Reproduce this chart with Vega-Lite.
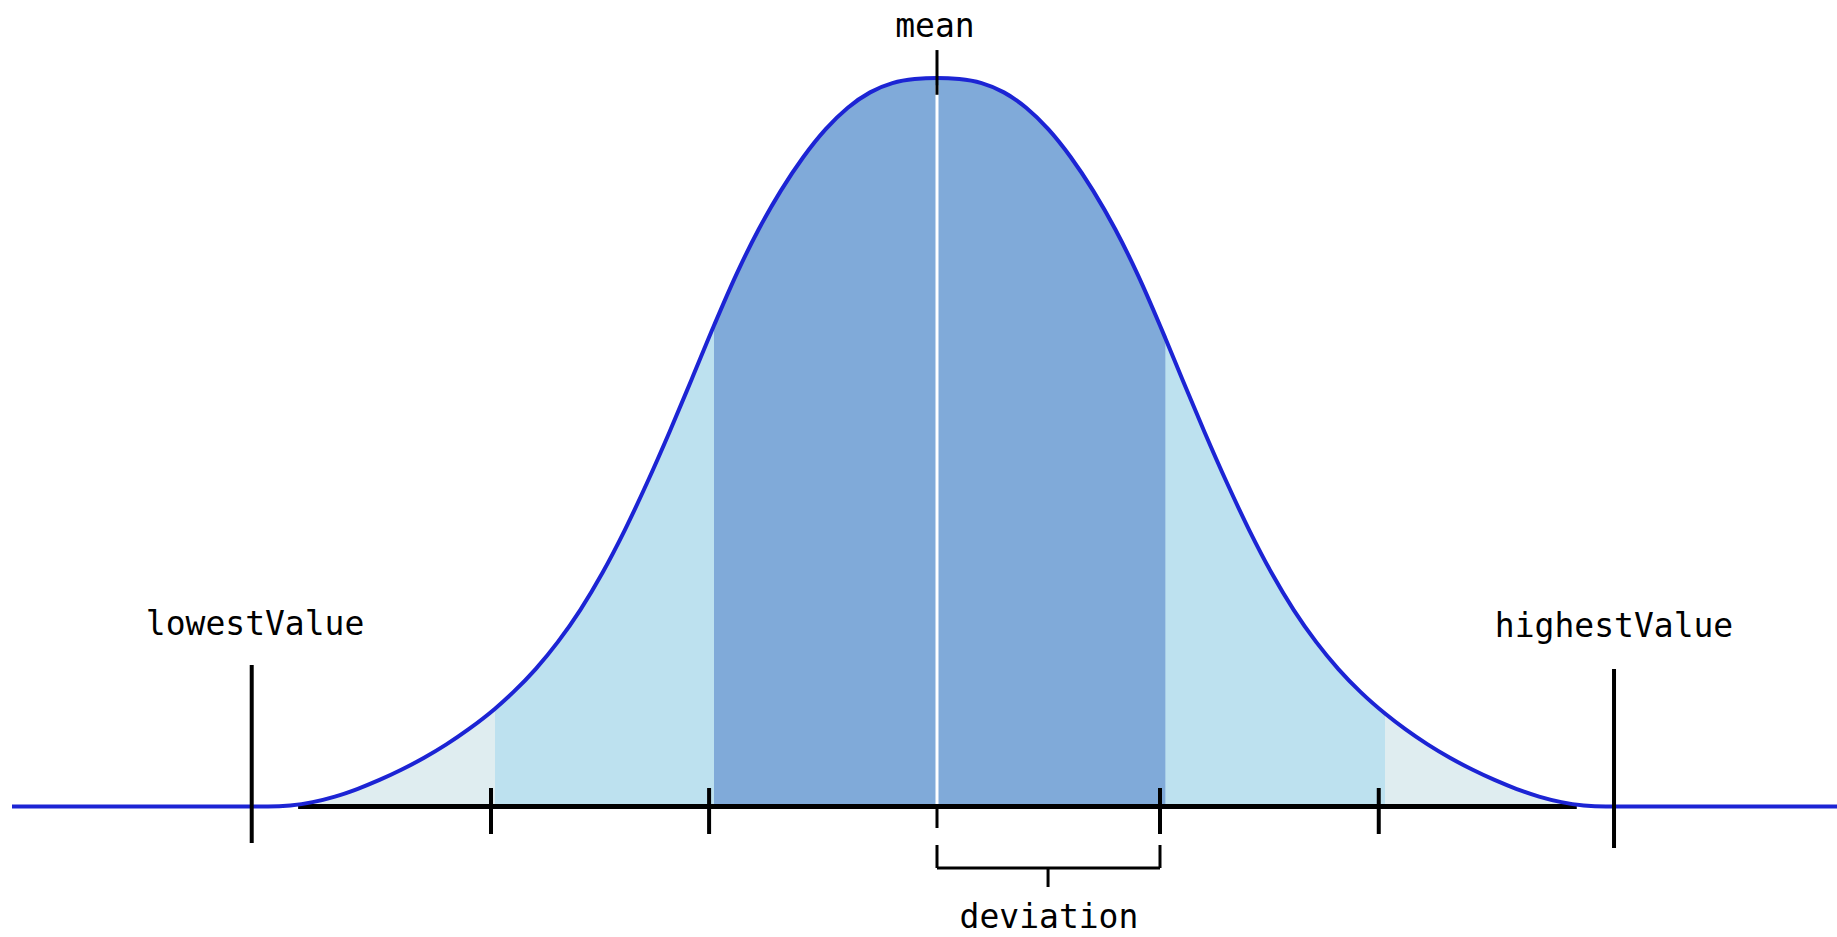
{
  "$schema": "https://vega.github.io/schema/vega-lite/v6.json",
  "autosize": "none",
  "width": 1837,
  "height": 937,
  "padding": 0,
  "background": "white",
  "config": {"view": {"stroke": null}},
  "datasets": {
    "curve": [
      {"x": -4.148, "y": 0},
      {"x": -3.0, "y": 0},
      {"x": -2.9, "y": 0.0015},
      {"x": -2.8, "y": 0.006},
      {"x": -2.7, "y": 0.0136},
      {"x": -2.6, "y": 0.024},
      {"x": -2.5, "y": 0.0365},
      {"x": -2.4, "y": 0.0508},
      {"x": -2.3, "y": 0.0669},
      {"x": -2.2, "y": 0.0853},
      {"x": -2.1, "y": 0.1062},
      {"x": -1.982, "y": 0.1343},
      {"x": -1.9, "y": 0.157},
      {"x": -1.8, "y": 0.1887},
      {"x": -1.7, "y": 0.226},
      {"x": -1.6, "y": 0.2697},
      {"x": -1.5, "y": 0.3209},
      {"x": -1.4, "y": 0.3795},
      {"x": -1.3, "y": 0.4444},
      {"x": -1.2, "y": 0.5138},
      {"x": -1.1, "y": 0.5866},
      {"x": -1.0, "y": 0.6603},
      {"x": -0.9, "y": 0.7302},
      {"x": -0.8, "y": 0.7921},
      {"x": -0.7, "y": 0.8455},
      {"x": -0.6, "y": 0.8913},
      {"x": -0.5, "y": 0.9295},
      {"x": -0.4, "y": 0.9592},
      {"x": -0.3, "y": 0.9803},
      {"x": -0.2, "y": 0.9929},
      {"x": -0.1, "y": 0.9985},
      {"x": 0, "y": 1.0},
      {"x": 0.1, "y": 0.9985},
      {"x": 0.2, "y": 0.9929},
      {"x": 0.3, "y": 0.9803},
      {"x": 0.4, "y": 0.9592},
      {"x": 0.5, "y": 0.9295},
      {"x": 0.6, "y": 0.8913},
      {"x": 0.7, "y": 0.8455},
      {"x": 0.8, "y": 0.7921},
      {"x": 0.9, "y": 0.7302},
      {"x": 1.0, "y": 0.6603},
      {"x": 1.024, "y": 0.6428},
      {"x": 1.1, "y": 0.5866},
      {"x": 1.2, "y": 0.5138},
      {"x": 1.3, "y": 0.4444},
      {"x": 1.4, "y": 0.3795},
      {"x": 1.5, "y": 0.3209},
      {"x": 1.6, "y": 0.2697},
      {"x": 1.7, "y": 0.226},
      {"x": 1.8, "y": 0.1887},
      {"x": 1.9, "y": 0.157},
      {"x": 2.009, "y": 0.1276},
      {"x": 2.1, "y": 0.1062},
      {"x": 2.2, "y": 0.0853},
      {"x": 2.3, "y": 0.0669},
      {"x": 2.4, "y": 0.0508},
      {"x": 2.5, "y": 0.0365},
      {"x": 2.6, "y": 0.024},
      {"x": 2.7, "y": 0.0136},
      {"x": 2.8, "y": 0.006},
      {"x": 2.9, "y": 0.0015},
      {"x": 3.0, "y": 0},
      {"x": 4.1, "y": 0}
    ],
    "ticks": [{"x": -2.0}, {"x": -1.022}, {"x": 1.0}, {"x": 1.981}],
    "markers": [
      {"name": "lowestValue", "x": -3.073, "top": 0.1943, "bottom": -0.0501},
      {"name": "highestValue", "x": 3.036, "top": 0.1887, "bottom": -0.057}
    ],
    "labels": [
      {"label": "mean", "x": -0.009, "y": 1.0563},
      {"label": "lowestValue", "x": -3.058, "y": 0.2354},
      {"label": "highestValue", "x": 3.036, "y": 0.2333},
      {"label": "deviation", "x": 0.502, "y": -0.1668}
    ]
  },
  "layer": [
    {
      "data": {"name": "curve"},
      "transform": [{"filter": {"field": "x", "range": [-3.0, 3.0]}}],
      "mark": {"type": "area", "interpolate": "monotone", "color": "#dfedf0"},
      "encoding": {
        "x": {"field": "x", "type": "quantitative", "scale": {"domain": [-4.2018, 4.0359], "nice": false, "zero": false}, "axis": null},
        "y": {"field": "y", "type": "quantitative", "scale": {"domain": [-0.1791, 1.1071], "nice": false, "zero": false}, "axis": null},
        "y2": {"datum": 0}
      }
    },
    {
      "data": {"name": "curve"},
      "transform": [{"filter": {"field": "x", "range": [-1.982, 2.009]}}],
      "mark": {"type": "area", "interpolate": "monotone", "color": "#bde1ef"},
      "encoding": {
        "x": {"field": "x", "type": "quantitative"},
        "y": {"field": "y", "type": "quantitative"},
        "y2": {"datum": 0}
      }
    },
    {
      "data": {"name": "curve"},
      "transform": [{"filter": {"field": "x", "range": [-1.0, 1.024]}}],
      "mark": {"type": "area", "interpolate": "monotone", "color": "#80aad9"},
      "encoding": {
        "x": {"field": "x", "type": "quantitative"},
        "y": {"field": "y", "type": "quantitative"},
        "y2": {"datum": 0}
      }
    },
    {
      "data": {"values": [{"x": 0}]},
      "mark": {"type": "rule", "color": "white", "strokeWidth": 3},
      "encoding": {
        "x": {"field": "x", "type": "quantitative"},
        "y": {"datum": 0},
        "y2": {"datum": 0.99}
      }
    },
    {
      "data": {"values": [{"x1": -2.865, "x2": 2.869}]},
      "mark": {"type": "rule", "color": "black", "strokeWidth": 5},
      "encoding": {
        "x": {"field": "x1", "type": "quantitative"},
        "x2": {"field": "x2"},
        "y": {"datum": 0}
      }
    },
    {
      "data": {"name": "curve"},
      "mark": {"type": "line", "interpolate": "monotone", "color": "#1c24d4", "strokeWidth": 4},
      "encoding": {
        "x": {"field": "x", "type": "quantitative"},
        "y": {"field": "y", "type": "quantitative"}
      }
    },
    {
      "data": {"name": "ticks"},
      "mark": {"type": "rule", "color": "black", "strokeWidth": 4},
      "encoding": {
        "x": {"field": "x", "type": "quantitative"},
        "y": {"datum": 0.0254},
        "y2": {"datum": -0.0377}
      }
    },
    {
      "data": {"values": [{"x": 0}]},
      "mark": {"type": "rule", "color": "black", "strokeWidth": 3},
      "encoding": {
        "x": {"field": "x", "type": "quantitative"},
        "y": {"datum": 0},
        "y2": {"datum": -0.0295}
      }
    },
    {
      "data": {"values": [{"x": 0}]},
      "mark": {"type": "rule", "color": "black", "strokeWidth": 3},
      "encoding": {
        "x": {"field": "x", "type": "quantitative"},
        "y": {"datum": 0.977},
        "y2": {"datum": 1.0384}
      }
    },
    {
      "data": {"name": "markers"},
      "mark": {"type": "rule", "color": "black", "strokeWidth": 4},
      "encoding": {
        "x": {"field": "x", "type": "quantitative"},
        "y": {"field": "top", "type": "quantitative"},
        "y2": {"field": "bottom"}
      }
    },
    {
      "data": {"values": [{"x": 0}, {"x": 1.0}]},
      "mark": {"type": "rule", "color": "black", "strokeWidth": 3},
      "encoding": {
        "x": {"field": "x", "type": "quantitative"},
        "y": {"datum": -0.0528},
        "y2": {"datum": -0.0844}
      }
    },
    {
      "data": {"values": [{"x1": 0, "x2": 1.0}]},
      "mark": {"type": "rule", "color": "black", "strokeWidth": 3},
      "encoding": {
        "x": {"field": "x1", "type": "quantitative"},
        "x2": {"field": "x2"},
        "y": {"datum": -0.0844}
      }
    },
    {
      "data": {"values": [{"x": 0.498}]},
      "mark": {"type": "rule", "color": "black", "strokeWidth": 3},
      "encoding": {
        "x": {"field": "x", "type": "quantitative"},
        "y": {"datum": -0.0844},
        "y2": {"datum": -0.1105}
      }
    },
    {
      "data": {"name": "labels"},
      "mark": {"type": "text", "font": "DejaVu Sans Mono", "fontSize": 33, "color": "black", "align": "center", "baseline": "alphabetic"},
      "encoding": {
        "x": {"field": "x", "type": "quantitative"},
        "y": {"field": "y", "type": "quantitative"},
        "text": {"field": "label"}
      }
    }
  ]
}
